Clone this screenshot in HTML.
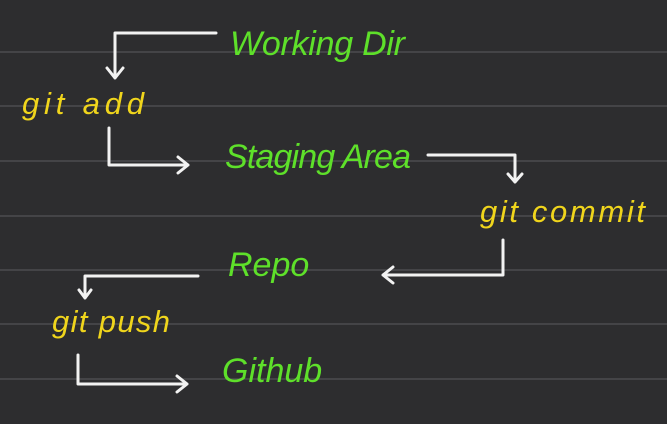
<!DOCTYPE html>
<html><head><meta charset="utf-8"><style>
html,body{margin:0;padding:0;background:#2d2d2f;}
svg{display:block}
.g{fill:#5ee02a;font-family:"Liberation Sans",sans-serif;font-style:italic;font-size:34px}
.y{fill:#f0d51c;font-family:"Liberation Sans",sans-serif;font-style:italic;font-size:31px}
.a{stroke:#f2f2f2;stroke-width:3;fill:none;stroke-linecap:round;stroke-linejoin:round}
.l{stroke:#444447;stroke-width:2}
</style></head><body>
<svg width="667" height="424" viewBox="0 0 667 424">
<rect width="667" height="424" fill="#2d2d2f"/>
<g>
<line class="l" x1="0" y1="52" x2="667" y2="52"/><line class="l" x1="0" y1="106" x2="667" y2="106"/>
<line class="l" x1="0" y1="161" x2="667" y2="161"/><line class="l" x1="0" y1="216" x2="667" y2="216"/>
<line class="l" x1="0" y1="270" x2="667" y2="270"/><line class="l" x1="0" y1="324" x2="667" y2="324"/>
<line class="l" x1="0" y1="379" x2="667" y2="379"/>
</g>
<text class="g" x="230" y="55" textLength="175" lengthAdjust="spacing">Working Dir</text>
<text class="y" x="22" y="114" textLength="122" lengthAdjust="spacing">git add</text>
<text class="g" x="225" y="168" textLength="186" lengthAdjust="spacing">Staging Area</text>
<text class="y" x="480" y="222" textLength="165" lengthAdjust="spacing">git commit</text>
<text class="g" x="228" y="276">Repo</text>
<text class="y" x="52" y="332" textLength="118" lengthAdjust="spacing">git push</text>
<text class="g" x="222" y="382">Github</text>
<g>
<path class="a" d="M216 33 H115 V78 M107 68 L115 78 L123 68"/>
<path class="a" d="M109 128 V165 H188 M178 157 L188 165 L178 173"/>
<path class="a" d="M428 155 H515 V182 M508 174 L515 182 L522 174"/>
<path class="a" d="M503 240 V275 H383 M393 267 L383 275 L393 283"/>
<path class="a" d="M198 276 H85 V298 M79 290 L85 298 L91 290"/>
<path class="a" d="M78 355 V384 H187 M177 376 L187 384 L177 392"/>
</g>
</svg>
</body></html>
